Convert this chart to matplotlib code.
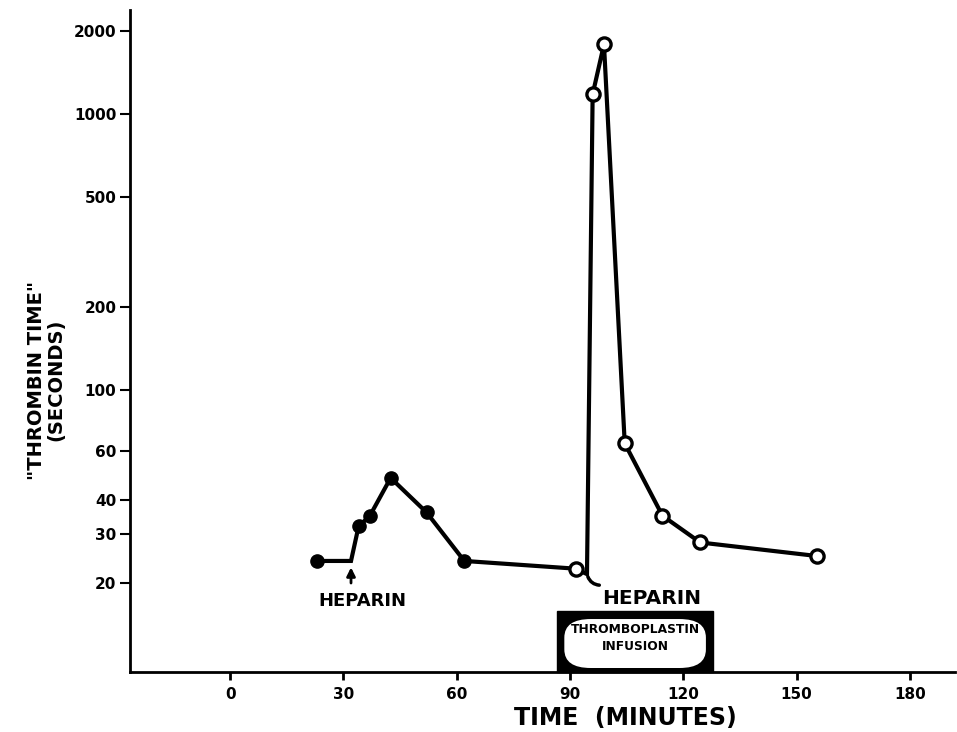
import matplotlib
matplotlib.use("Agg")
import matplotlib.pyplot as plt
from matplotlib.patches import Rectangle, FancyBboxPatch
from matplotlib.ticker import FixedLocator, NullLocator

# thrombin time before thromboplastin (filled points)
filled_t = [23, 34, 37, 42.5, 52, 62]
filled_v = [24, 32, 35, 48, 36, 24]
# thrombin time around / after thromboplastin (open points)
open_t = [91.5, 96, 99, 104.5, 114.5, 124.5, 155.5]
open_v = [22.5, 1180, 1790, 64, 35, 28, 25]
# heparin injections (time, value where the line bends)
heparin_t = [32, 94.5]
heparin_v = [24, 21.5]
# thromboplastin infusion interval
infusion = [86.5, 128]

y_ticks = [20, 30, 40, 60, 100, 200, 500, 1000, 2000]
y_labels = ["20", "30", "40", "60", "100", "200", "500", "1000", "2000"]
x_ticks = [0, 30, 60, 90, 120, 150, 180]

FONT = "DejaVu Sans"

fig = plt.figure(figsize=(9.57, 7.32), dpi=100)
ax = fig.add_axes([0.136, 0.082, 0.862, 0.904])
ax.set_yscale("log")
ax.set_xlim(-26.5, 192)
ax.set_ylim(9.5, 2380)

# connecting line, with bends at the heparin injections
line_t = [filled_t[0], heparin_t[0]] + filled_t[1:] + [open_t[0], heparin_t[1]] + open_t[1:]
line_v = [filled_v[0], heparin_v[0]] + filled_v[1:] + [open_v[0], heparin_v[1]] + open_v[1:]
ax.plot(line_t, line_v, color="black", lw=3, solid_joinstyle="miter", zorder=2)
ax.plot(filled_t, filled_v, "o", color="black", ms=9.5, zorder=3)
ax.plot(open_t, open_v, "o", mfc="white", mec="black", mew=2.4, ms=9.5, zorder=3)

# heparin markers
ax.annotate("", xy=(heparin_t[0], heparin_v[0] * 0.97), xytext=(heparin_t[0], 19.5),
            arrowprops=dict(arrowstyle="-|>,head_width=0.25,head_length=0.5",
                            color="black", lw=2))
ax.text(heparin_t[0] + 3, 17.2, "HEPARIN", ha="center", va="center",
        fontsize=13, fontweight="bold", family=FONT)
ax.annotate("", xy=(heparin_t[1], heparin_v[1]), xytext=(98.5, 19.6),
            arrowprops=dict(arrowstyle="-", color="black", lw=2.5,
                            connectionstyle="arc3,rad=-0.4"))
ax.text(98.5, 17.6, "HEPARIN", ha="left", va="center",
        fontsize=14.5, fontweight="bold", family=FONT)

# thromboplastin infusion box
trans = ax.get_xaxis_transform()
mid = (infusion[0] + infusion[1]) / 2
ax.add_patch(Rectangle((infusion[0], 0), infusion[1] - infusion[0], 0.092,
                       transform=trans, facecolor="black", edgecolor="black",
                       clip_on=False, zorder=4))
ax.add_patch(FancyBboxPatch((infusion[0] + 2, 0.006), infusion[1] - infusion[0] - 4, 0.074,
                            boxstyle="round,pad=0,rounding_size=7", transform=trans,
                            facecolor="white", edgecolor="none", zorder=5,
                            mutation_aspect=0.004))
ax.text(mid, 0.064, "THROMBOPLASTIN", transform=trans,
        ha="center", va="center", fontsize=8.8, fontweight="bold", family=FONT, zorder=6)
ax.text(mid, 0.038, "INFUSION", transform=trans,
        ha="center", va="center", fontsize=8.8, fontweight="bold", family=FONT, zorder=6)

# axes styling
for side in ["top", "right"]:
    ax.spines[side].set_visible(False)
for side in ["left", "bottom"]:
    ax.spines[side].set_linewidth(2)

ax.yaxis.set_major_locator(FixedLocator(y_ticks))
ax.yaxis.set_minor_locator(NullLocator())
ax.set_yticklabels(y_labels)
ax.set_xticks(x_ticks)
ax.tick_params(axis="y", length=7, width=1.5, pad=3, labelsize=11)
ax.tick_params(axis="x", length=6, width=2, pad=5, labelsize=11)
for lab in ax.get_xticklabels() + ax.get_yticklabels():
    lab.set_fontweight("bold")
    lab.set_family(FONT)

ax.set_xlabel("TIME  (MINUTES)", fontsize=17, fontweight="bold", family=FONT,
              va="center")
ax.xaxis.set_label_coords(0.6, -0.07)
ax.set_ylabel("\"THROMBIN TIME\"\n(SECONDS)", fontsize=14, fontweight="bold",
              family=FONT, linespacing=1.0, va="center")
ax.yaxis.set_label_coords(-0.102, 0.441)

fig.savefig("out.png", dpi=100)
